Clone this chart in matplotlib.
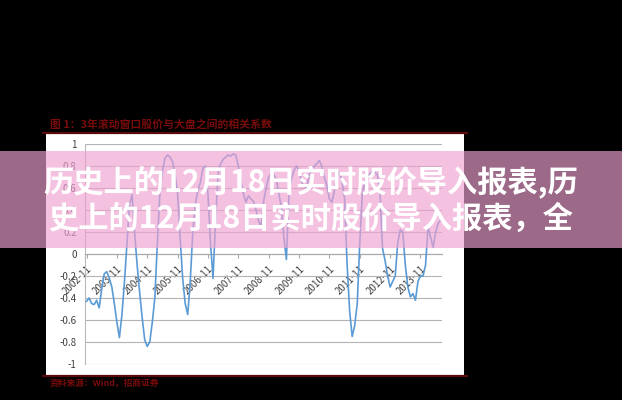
import matplotlib
matplotlib.use("Agg")
import matplotlib.pyplot as plt
from matplotlib.patches import Rectangle
from matplotlib.lines import Line2D

plt.rcParams['font.family'] = ['Noto Sans CJK SC', 'DejaVu Sans']

# ---- data (monthly rolling correlation) ----
values = [
    -0.43, -0.40, -0.45, -0.46, -0.42, -0.49, -0.32, -0.18, -0.16, -0.22,
    -0.30, -0.45, -0.62, -0.76, -0.55, -0.25, 0.10, 0.45, 0.54, 0.20,
    -0.10, -0.35, -0.58, -0.78, -0.84, -0.80, -0.62, -0.40, 0.10, 0.55,
    0.75, 0.87, 0.90, 0.88, 0.84, 0.72, 0.55, 0.15, -0.22, -0.45,
    -0.55, -0.25, 0.20, 0.45, 0.58, 0.65, 0.78, 0.80, 0.55, 0.10,
    -0.22, 0.30, 0.73, 0.82, 0.86, 0.88, 0.90, 0.89, 0.91, 0.90,
    0.80, 0.66, 0.55, 0.47, 0.53, 0.50, 0.48, 0.40, 0.30, 0.25,
    0.48, 0.60, 0.70, 0.73, 0.72, 0.68, 0.55, 0.43, 0.15, -0.05,
    0.55, 0.68, 0.76, 0.80, 0.76, 0.66, 0.62, 0.60, 0.72, 0.76,
    0.80, 0.82, 0.85, 0.80, 0.70, 0.62, 0.50, 0.47, 0.58, 0.72,
    0.74, 0.66, 0.50, -0.10, -0.52, -0.75, -0.65, -0.45, 0.10, 0.55,
    0.65, 0.70, 0.73, 0.75, 0.74, 0.72, 0.55, 0.05, -0.06, -0.20,
    -0.30, -0.25, -0.20, 0.10, 0.22, 0.20, -0.10, -0.30, -0.39, -0.36,
    -0.42, -0.25, -0.20, -0.20, -0.10, 0.25, 0.15, 0.06, 0.20, 0.28,
    0.31,
]
tick_labels = ['2002-11', '2003-11', '2004-11', '2005-11', '2006-11', '2007-11',
               '2008-11', '2009-11', '2010-11', '2011-11', '2012-11', '2013-11']
y_ticks = [1, 0.8, 0.6, 0.4, 0.2, 0, -0.2, -0.4, -0.6, -0.8, -1]
y_tick_labels = ['1', '0.8', '0.6', '0.4', '0.2', '0', '-0.2', '-0.4', '-0.6', '-0.8', '-1']
chart_title = '图 1：3年滚动窗口股价与大盘之间的相关系数'
source_note = '资料来源：Wind，招商证券'
banner_line1 = '历史上的12月18日实时股价导入报表,历'
banner_line2 = '史上的12月18日实时股价导入报表，全'

W, H = 622, 400
fig = plt.figure(figsize=(W / 100, H / 100), dpi=100)
fig.patch.set_facecolor('black')

def fx(x):
    return x / W

def fy(y):
    return 1 - y / H

# white chart panel with dark-red frame lines
fig.add_artist(Rectangle((fx(46), fy(376)), fx(464) - fx(46), fy(132) - fy(376),
                         transform=fig.transFigure, facecolor='white',
                         edgecolor='none', zorder=-2))
for yy in (132.5, 375.5):
    fig.add_artist(Line2D([fx(43), fx(467)], [fy(yy), fy(yy)],
                          transform=fig.transFigure, color='#5a0a0a', lw=1.6, zorder=-1))

# chart title and source (dark red, above/below panel)
fig.text(fx(50), fy(124), chart_title, color='#7a0c0c', fontsize=7.8,
         fontweight='bold', ha='left', va='center', zorder=1)
fig.text(fx(50), fy(384), source_note, color='#7a0c0c', fontsize=6.3,
         fontweight='bold', ha='left', va='center', zorder=1)

# plot area
ax = fig.add_axes([fx(85), fy(364), fx(442) - fx(85), fy(144) - fy(364)])
ax.set_facecolor('none')
x = list(range(len(values)))
ax.plot(x, values, color='#5b9bd5', lw=1.2, zorder=3)
ax.set_xlim(-0.6, 140.5)
ax.set_ylim(-1, 1)
ax.set_yticks(y_ticks)
ax.set_yticklabels(y_tick_labels)
ax.set_xticks(list(range(0, 12 * len(tick_labels), 12)))
ax.set_xticklabels(tick_labels)
ax.grid(axis='y', color='#b4b4b4', lw=0.8)
ax.set_axisbelow(True)
for s in ('top', 'right'):
    ax.spines[s].set_visible(False)
ax.spines['bottom'].set_position(('data', 0))
ax.spines['bottom'].set_color('#a8a8a8')
ax.spines['left'].set_color('#b8b8b8')
ax.tick_params(axis='y', length=0, pad=6, labelsize=7, labelcolor='#404040')
ax.tick_params(axis='x', length=3, width=0.8, color='#a8a8a8', pad=4,
               labelsize=7, labelcolor='#404040')
for lab in ax.get_xticklabels():
    lab.set_rotation(45)
    lab.set_ha('right')
    lab.set_va('top')
    lab.set_rotation_mode('anchor')

# translucent pink banner with title text
fig.add_artist(Rectangle((0, fy(248)), 1, fy(151) - fy(248),
                         transform=fig.transFigure, facecolor=(0.94, 0.63, 0.82),
                         alpha=0.66, edgecolor='none', zorder=5))
fig.text(0.5, fy(183), banner_line1, color='white', fontsize=21.8,
         fontweight='bold', ha='center', va='center', zorder=6)
fig.text(0.5, fy(219), banner_line2, color='white', fontsize=21.8,
         fontweight='bold', ha='center', va='center', zorder=6)

fig.savefig('out.png', dpi=100, facecolor='black')
